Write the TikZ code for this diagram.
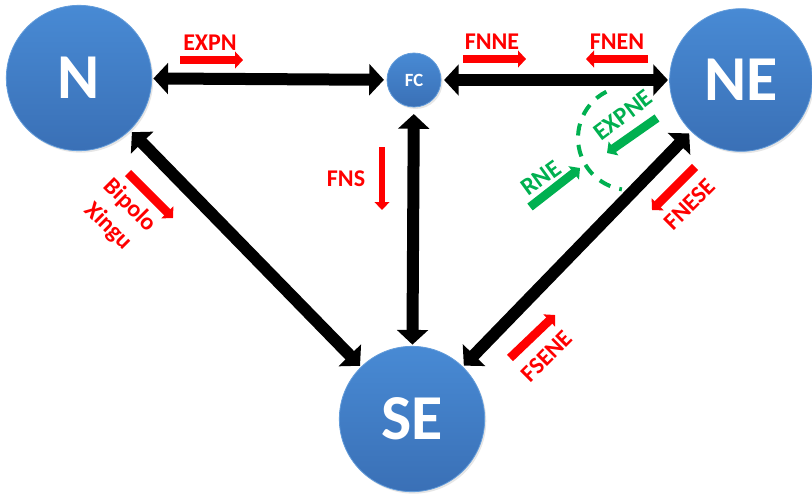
\documentclass[tikz,border=0pt]{standalone}
\usepackage{fontspec}
\setmainfont{Carlito}
\usetikzlibrary{arrows.meta,shadows,calc}
\definecolor{myred}{RGB}{255,0,0}
\definecolor{mygreen}{RGB}{0,176,80}
\definecolor{circtop}{RGB}{72,138,212}
\definecolor{circmid}{RGB}{66,128,202}
\definecolor{circbot}{RGB}{58,112,182}
\begin{document}
\begin{tikzpicture}[x=0.75pt,y=-0.75pt,
  region/.style={circle, draw=circtop!85!white, line width=0.6pt, top color=circtop, middle color=circmid, bottom color=circbot,
    text=white, font=\bfseries\fontsize{48}{50}\selectfont, inner sep=0pt,
    drop shadow={opacity=0.2, shadow xshift=1.2pt, shadow yshift=-1.5pt}},
  bigarrow/.style={line width=9pt, black, {Triangle[length=11pt,width=23pt]}-{Triangle[length=11pt,width=23pt]}},
  redarrow/.style={line width=6.5pt, myred, -{Triangle[length=6pt,width=12.5pt]}},
  greenarrow/.style={line width=6.5pt, mygreen, -{Triangle[length=6pt,width=12.5pt]}},
  redlabel/.style={text=myred, font=\bfseries\fontsize{18}{22.5}\selectfont, inner sep=0pt},
  greenlabel/.style={text=mygreen, font=\bfseries\fontsize{18.5}{22}\selectfont, inner sep=0pt},
  greendash/.style={mygreen, line width=3pt, dash pattern=on 9pt off 7pt}
]
\useasboundingbox (0,0) rectangle (812,494);

% regions
\node[region, minimum size=109pt] (N) at (79,78) {N};
\node[region, minimum size=40.5pt, font=\bfseries\fontsize{14}{15}\selectfont] (FC) at (414,80) {FC};
\node[region, minimum size=107pt] (NE) at (741,80) {NE};
\node[region, minimum size=109pt] (SE) at (412,419) {SE};

% main connectors
\draw[bigarrow, shorten <=1pt, shorten >=2pt] (N) -- (FC);
\draw[bigarrow, shorten <=2pt, shorten >=1pt] (FC) -- (NE);
\draw[bigarrow, shorten <=5pt, shorten >=1pt] (FC) -- (SE);
\draw[bigarrow, shorten <=2pt, shorten >=1pt] (N) -- (SE);
\draw[bigarrow, shorten <=2pt, shorten >=1pt] (NE) -- (SE);

% red flow labels
\node[redlabel] (lEXPN) at (210,43) {EXPN};
\coordinate (aEXPNs) at (180,60); \coordinate (aEXPNe) at (243,60);
\draw[redarrow] (aEXPNs) -- (aEXPNe);

\node[redlabel] (lFNNE) at (492,42) {FNNE};
\coordinate (aFNNEs) at (463,59); \coordinate (aFNNEe) at (526,59);
\draw[redarrow] (aFNNEs) -- (aFNNEe);

\node[redlabel] (lFNEN) at (617,42) {FNEN};
\coordinate (aFNENs) at (648,59); \coordinate (aFNENe) at (586,59);
\draw[redarrow] (aFNENs) -- (aFNENe);

\node[redlabel] (lFNS) at (346,179) {FNS};
\coordinate (aFNSs) at (382,147); \coordinate (aFNSe) at (382,210);
\draw[redarrow, line width=4.5pt, -{Triangle[length=6pt,width=11pt]}] (aFNSs) -- (aFNSe);

\node[redlabel, align=center, rotate=-45] (lBX) at (119,216) {Bipolo\\Xingu};
\coordinate (aBXs) at (128,173); \coordinate (aBXe) at (173,218);
\draw[redarrow] (aBXs) -- (aBXe);

\node[redlabel, rotate=45] (lFNESE) at (690,204) {FNESE};
\coordinate (aFNESEs) at (695,167); \coordinate (aFNESEe) at (652,210);
\draw[redarrow] (aFNESEs) -- (aFNESEe);

\node[redlabel, rotate=45] (lFSENE) at (547,356) {FSENE};
\coordinate (aFSENEs) at (510,358); \coordinate (aFSENEe) at (555,315);
\draw[redarrow] (aFSENEs) -- (aFSENEe);

% green
\node[greenlabel, rotate=37] (lEXPNE) at (623,115) {EXPNE};
\coordinate (aEXPNEs) at (657,118); \coordinate (aEXPNEe) at (607,153);
\draw[greenarrow] (aEXPNEs) -- (aEXPNEe);

\node[greenlabel, rotate=36] (lRNE) at (541,178) {RNE};
\coordinate (aRNEs) at (530,207); \coordinate (aRNEe) at (580,168);
\draw[greenarrow] (aRNEs) -- (aRNEe);

\coordinate (arcc) at (630,138);
\draw[greendash] ($(arcc)+(-117:52)$) arc[start angle=-117, end angle=-261, radius=52];
\end{tikzpicture}
\end{document}
